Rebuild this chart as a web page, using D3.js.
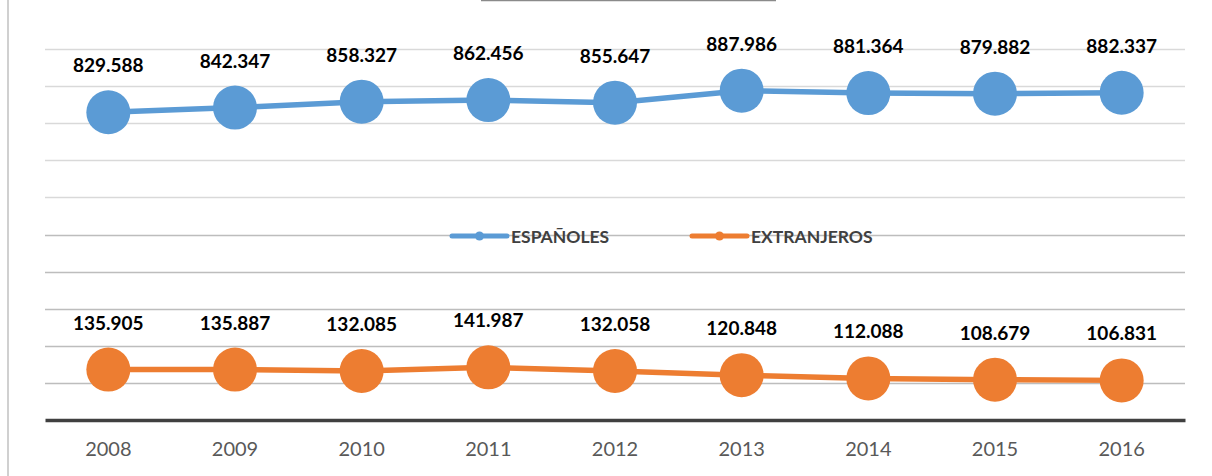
<!DOCTYPE html>
<html>
<head>
<meta charset="utf-8">
<script src="https://cdn.jsdelivr.net/npm/d3@7"></script>
<style>
  body { margin: 0; background: #fff; }
  svg { display: block; font-family: Lato, "Open Sans", sans-serif; }
</style>
</head>
<body>
<script>
var years = ["2008", "2009", "2010", "2011", "2012", "2013", "2014", "2015", "2016"];
var espanoles = [829588, 842347, 858327, 862456, 855647, 887986, 881364, 879882, 882337];
var extranjeros = [135905, 135887, 132085, 141987, 132058, 120848, 112088, 108679, 106831];
var gridValues = [100000, 200000, 300000, 400000, 500000, 600000, 700000, 800000, 900000, 1000000];

var svgW = 1212;
var svgH = 476;
var plotL = 45, plotR = 1185, plotB = 420, plotT = 12;

var fmt = function(v) {
  return d3.format(",")(v).replace(/,/g, ".");
};

var svg = d3.select("body")
  .append("svg")
  .attr("width", svgW)
  .attr("height", svgH);

// frame bits
svg.append("line")
  .attr("x1", 8).attr("x2", 8).attr("y1", 0).attr("y2", svgH)
  .attr("stroke", "#d0d0d0").attr("stroke-width", 2);
svg.append("line")
  .attr("x1", 481).attr("x2", 776).attr("y1", 0.5).attr("y2", 0.5)
  .attr("stroke", "#8a8a8a").attr("stroke-width", 1.5);

var x = d3.scaleBand()
  .domain(years)
  .range([plotL, plotR]);

var y = d3.scaleLinear()
  .domain([0, 1100000])
  .range([plotB, plotT]);

// gridlines
svg.selectAll("line.grid")
  .data(gridValues)
  .enter()
  .append("line")
  .attr("class", "grid")
  .attr("x1", plotL)
  .attr("x2", plotR)
  .attr("y1", function(d) { return Math.round(y(d)) + 0.5; })
  .attr("y2", function(d) { return Math.round(y(d)) + 0.5; })
  .attr("stroke", function(d) { return d <= 500000 ? "#bdbdbd" : "#d9d9d9"; })
  .attr("stroke-width", 1.5);

// x axis
var xAxis = svg.append("g")
  .attr("transform", "translate(0," + plotB + ")")
  .call(d3.axisBottom(x).tickSize(0).tickPadding(22));
xAxis.select(".domain")
  .attr("stroke", "#404040")
  .attr("stroke-width", 3.5);
xAxis.selectAll("text")
  .attr("font-size", "20px")
  .attr("font-family", "Lato, 'Open Sans', sans-serif")
  .attr("fill", "#595959");

// legend (sits in the middle of the plot)
var legend = [
  { name: "ESPAÑOLES", color: "#5b9bd5", x0: 452 },
  { name: "EXTRANJEROS", color: "#ed7d31", x0: 692 }
];
var lg = svg.selectAll("g.legend")
  .data(legend)
  .enter()
  .append("g")
  .attr("class", "legend")
  .attr("transform", function(d) { return "translate(" + d.x0 + ",236)"; });
lg.append("line")
  .attr("x1", 0).attr("x2", 55).attr("y1", 0).attr("y2", 0)
  .attr("stroke", function(d) { return d.color; })
  .attr("stroke-width", 5)
  .attr("stroke-linecap", "round");
lg.append("circle")
  .attr("cx", 27.5).attr("cy", 0).attr("r", 4.5)
  .attr("fill", function(d) { return d.color; });
lg.append("text")
  .attr("x", 59)
  .attr("y", 6.5)
  .attr("font-size", "17.5px")
  .attr("font-weight", "bold")
  .attr("fill", "#404040")
  .text(function(d) { return d.name; });

// series
var series = [
  { values: espanoles, color: "#5b9bd5" },
  { values: extranjeros, color: "#ed7d31" }
];

var line = d3.line()
  .x(function(d, i) { return x(years[i]) + x.bandwidth() / 2; })
  .y(function(d) { return y(d); });

series.forEach(function(s) {
  svg.append("path")
    .datum(s.values)
    .attr("d", line)
    .attr("fill", "none")
    .attr("stroke", s.color)
    .attr("stroke-width", 5.5);

  svg.selectAll(null)
    .data(s.values)
    .enter()
    .append("circle")
    .attr("cx", function(d, i) { return x(years[i]) + x.bandwidth() / 2; })
    .attr("cy", function(d) { return y(d); })
    .attr("r", 22)
    .attr("fill", s.color);

  svg.selectAll(null)
    .data(s.values)
    .enter()
    .append("text")
    .text(function(d) { return fmt(d); })
    .attr("text-anchor", "middle")
    .attr("x", function(d, i) { return x(years[i]) + x.bandwidth() / 2; })
    .attr("y", function(d) { return y(d) - 40; })
    .attr("font-size", "19px")
    .attr("font-weight", "bold")
    .attr("fill", "#000");
});
</script>
</body>
</html>
